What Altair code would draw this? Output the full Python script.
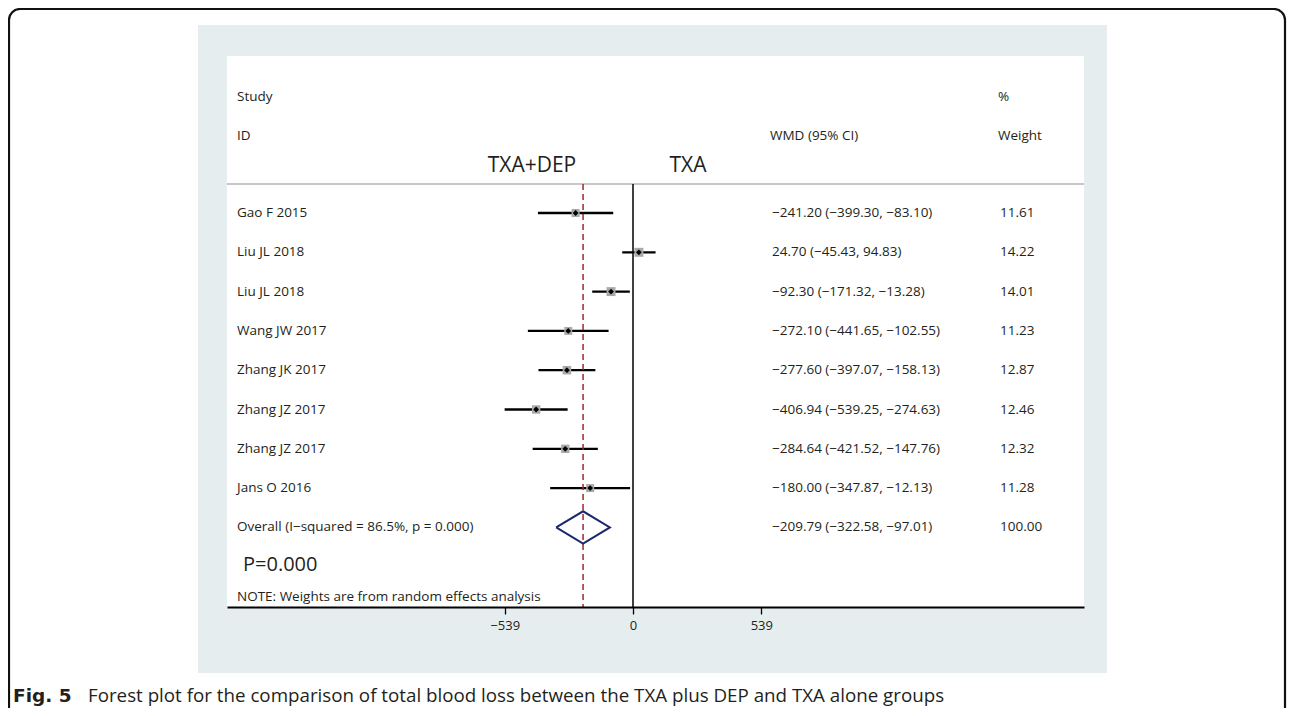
import altair as alt
import pandas as pd

# ---------------- data ----------------
studies = ["Gao F 2015", "Liu JL 2018", "Liu JL 2018", "Wang JW 2017",
           "Zhang JK 2017", "Zhang JZ 2017", "Zhang JZ 2017", "Jans O 2016"]
wmd = [-241.20, 24.70, -92.30, -272.10, -277.60, -406.94, -284.64, -180.00]
lower = [-399.30, -45.43, -171.32, -441.65, -397.07, -539.25, -421.52, -347.87]
upper = [-83.10, 94.83, -13.28, -102.55, -158.13, -274.63, -147.76, -12.13]
weights = [11.61, 14.22, 14.01, 11.23, 12.87, 12.46, 12.32, 11.28]

overall_label = "Overall  (I\u2212squared = 86.5%, p = 0.000)"
overall_wmd = -209.79
overall_lower = -322.58
overall_upper = -97.01
overall_weight = 100.00
null_effect = 0
tick_values = [-539, 0, 539]

# ---------------- style ----------------
FONT = "Open Sans"
TEXT = "#231f20"
FS = 13.5
W, H = 857, 551
PX_PER_UNIT = 128.3 / 539
ZERO_PX = 406
ROW_TOP, ROW_STEP = 157, 39.3


def fmt(v):
    return f"{v:.2f}".replace("-", "\u2212")


df = pd.DataFrame({"study": studies, "wmd": wmd, "lower": lower,
                   "upper": upper, "weight": weights,
                   "row": list(range(len(studies)))})
df["ci_text"] = [f"{fmt(e)} ({fmt(l)}, {fmt(u)})" for e, l, u in zip(wmd, lower, upper)]
df["w_text"] = [f"{w:.2f}" for w in weights]

ov_row = len(studies)
ov = pd.DataFrame({"label": [overall_label], "wmd": [overall_wmd],
                   "lower": [overall_lower], "upper": [overall_upper],
                   "row": [ov_row],
                   "ci_text": [f"{fmt(overall_wmd)} ({fmt(overall_lower)}, {fmt(overall_upper)})"],
                   "w_text": [f"{overall_weight:.2f}"]})

dia = pd.DataFrame({"x": [overall_lower, overall_wmd, overall_upper, overall_wmd, overall_lower],
                    "dy": [0, -1, 0, 1, 0], "order": [0, 1, 2, 3, 4]})
dia["y"] = ov_row + dia["dy"] * 0.41

null_df = pd.DataFrame({"v": [null_effect]})
one = pd.DataFrame({"a": [0]})

xscale = alt.Scale(domain=[-ZERO_PX / PX_PER_UNIT, (W - ZERO_PX) / PX_PER_UNIT], nice=False, zero=False)
yscale = alt.Scale(domain=[-ROW_TOP / ROW_STEP, (H - ROW_TOP) / ROW_STEP], nice=False, zero=False, reverse=True)
xaxis = alt.Axis(values=tick_values, format="d", title=None, grid=False,
                 domainColor="black", domainWidth=2, tickColor="black",
                 tickSize=7, tickWidth=1.3, labelFont=FONT, labelFontSize=13,
                 labelColor=TEXT, labelPadding=5, zindex=1, labelFlush=False,
                 labelOverlap=False)


def X(f):
    return alt.X(f, type="quantitative", scale=xscale, axis=xaxis)


def Y(f):
    return alt.Y(f, type="quantitative", scale=yscale, axis=None)


layers = []
# outer rounded frame
layers.append(alt.Chart(one).mark_rect(fillOpacity=0, stroke="#111111", strokeWidth=2.2,
                                        cornerRadius=11).encode(
    x=alt.value(-218), x2=alt.value(1058), y=alt.value(-47), y2=alt.value(760)))
# light panel
layers.append(alt.Chart(one).mark_rect(color="#e6edef").encode(
    x=alt.value(-29), x2=alt.value(880), y=alt.value(-31), y2=alt.value(617)))
# white plot area
layers.append(alt.Chart(one).mark_rect(color="white").encode(
    x=alt.value(0), x2=alt.value(W), y=alt.value(0), y2=alt.value(H)))
# header separator
layers.append(alt.Chart(one).mark_rule(color="#b5b5b5", strokeWidth=1.5).encode(
    x=alt.value(0), x2=alt.value(W), y=alt.value(128)))
# null line
layers.append(alt.Chart(null_df).mark_rule(color="black", strokeWidth=1.5).encode(
    x=X("v"), y=alt.value(128), y2=alt.value(H)))
# CI lines
layers.append(alt.Chart(df).mark_rule(color="black", strokeWidth=2.3).encode(
    x=X("lower"), x2="upper", y=Y("row")))
# weight boxes
layers.append(alt.Chart(df).mark_square(color="#a9a9a9", opacity=1).encode(
    x=X("wmd"), y=Y("row"),
    size=alt.Size("weight:Q", scale=alt.Scale(type="linear", domain=[0, 15], range=[0, 85]), legend=None)))
# point estimates
layers.append(alt.Chart(df).mark_point(shape="diamond", filled=True, color="black", size=34, opacity=1).encode(
    x=X("wmd"), y=Y("row")))
# overall dashed line
layers.append(alt.Chart(ov).mark_rule(color="#a3262a", strokeWidth=1.5, strokeDash=[6, 4]).encode(
    x=X("wmd"), y=alt.value(128), y2=alt.value(H)))
# overall diamond
layers.append(alt.Chart(dia).mark_line(color="#1c2a6b", strokeWidth=2).encode(
    x=X("x"), y=Y("y"), order="order:Q"))

tkw = dict(align="left", baseline="middle", font=FONT, fontSize=FS, color=TEXT)
layers.append(alt.Chart(df).mark_text(**tkw).encode(x=alt.value(10), y=Y("row"), text="study:N"))
layers.append(alt.Chart(df).mark_text(**tkw).encode(x=alt.value(545), y=Y("row"), text="ci_text:N"))
layers.append(alt.Chart(df).mark_text(**tkw).encode(x=alt.value(773), y=Y("row"), text="w_text:N"))
layers.append(alt.Chart(ov).mark_text(**tkw).encode(x=alt.value(10), y=Y("row"), text="label:N"))
layers.append(alt.Chart(ov).mark_text(**tkw).encode(x=alt.value(545), y=Y("row"), text="ci_text:N"))
layers.append(alt.Chart(ov).mark_text(**tkw).encode(x=alt.value(773), y=Y("row"), text="w_text:N"))


def label(txt, x, y, **kw):
    opts = dict(tkw)
    opts.update(kw)
    return alt.Chart(one).mark_text(text=txt, **opts).encode(x=alt.value(x), y=alt.value(y))


cap = dict(baseline="alphabetic", fontSize=18.75)
layers += [
    label("Study", 10, 41),
    label("ID", 10, 80),
    label("WMD (95% CI)", 543, 80),
    label("%", 771, 41),
    label("Weight", 771, 80),
    label("TXA+DEP", 305, 110, align="center", fontSize=21),
    label("TXA", 461, 110, align="center", fontSize=21),
    label("P=0.000", 16, 509, fontSize=20),
    label("NOTE: Weights are from random effects analysis", 10, 541),
    label("Fig. 5", -214, 645.5, fontWeight="bold", baseline="alphabetic",
          font="DejaVu Sans", fontSize=18.5),
    label("Forest plot for the comparison of total blood loss between the TXA plus DEP and TXA alone groups",
          -139, 645.5, **cap),
]

chart = alt.layer(*layers).properties(
    width=W, height=H,
    padding={"left": 219, "top": 48, "right": 203, "bottom": 101},
    autosize="none", background="white",
).configure_view(stroke=None)

chart.save("out.html", embed_options={"renderer": "svg", "actions": False})
